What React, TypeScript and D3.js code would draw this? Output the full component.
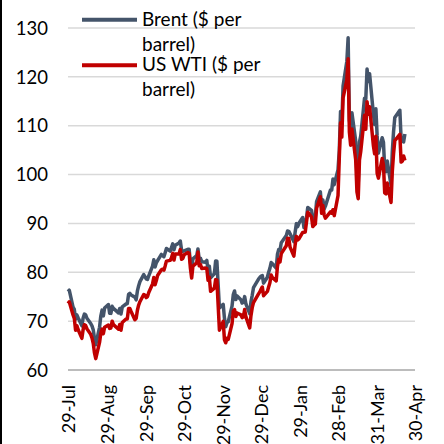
import React from "react";
import * as d3 from "d3";

const dates: string[] = [
  "2021-07-29","2021-07-30","2021-08-02","2021-08-03","2021-08-04","2021-08-05","2021-08-06","2021-08-09","2021-08-10","2021-08-11","2021-08-12","2021-08-13","2021-08-16","2021-08-17","2021-08-18","2021-08-19","2021-08-20","2021-08-23","2021-08-24","2021-08-25","2021-08-26","2021-08-27","2021-08-30","2021-08-31",
  "2021-09-01","2021-09-02","2021-09-03","2021-09-07","2021-09-08","2021-09-09","2021-09-10","2021-09-13","2021-09-14","2021-09-15","2021-09-16","2021-09-17","2021-09-20","2021-09-21","2021-09-22","2021-09-23","2021-09-24","2021-09-27","2021-09-28","2021-09-29","2021-09-30",
  "2021-10-01","2021-10-04","2021-10-05","2021-10-06","2021-10-07","2021-10-08","2021-10-11","2021-10-12","2021-10-13","2021-10-14","2021-10-15","2021-10-18","2021-10-19","2021-10-20","2021-10-21","2021-10-22","2021-10-25","2021-10-26","2021-10-27","2021-10-28","2021-10-29",
  "2021-11-01","2021-11-02","2021-11-03","2021-11-04","2021-11-05","2021-11-08","2021-11-09","2021-11-10","2021-11-11","2021-11-12","2021-11-15","2021-11-16","2021-11-17","2021-11-18","2021-11-19","2021-11-22","2021-11-23","2021-11-24","2021-11-26","2021-11-29","2021-11-30",
  "2021-12-01","2021-12-02","2021-12-03","2021-12-06","2021-12-07","2021-12-08","2021-12-09","2021-12-10","2021-12-13","2021-12-14","2021-12-15","2021-12-16","2021-12-17","2021-12-20","2021-12-21","2021-12-22","2021-12-23","2021-12-27","2021-12-28","2021-12-29","2021-12-30","2021-12-31",
  "2022-01-03","2022-01-04","2022-01-05","2022-01-06","2022-01-07","2022-01-10","2022-01-11","2022-01-12","2022-01-13","2022-01-14","2022-01-18","2022-01-19","2022-01-20","2022-01-21","2022-01-24","2022-01-25","2022-01-26","2022-01-27","2022-01-28","2022-01-31",
  "2022-02-01","2022-02-02","2022-02-03","2022-02-04","2022-02-07","2022-02-08","2022-02-09","2022-02-10","2022-02-11","2022-02-14","2022-02-15","2022-02-16","2022-02-17","2022-02-18","2022-02-22","2022-02-23","2022-02-24","2022-02-25","2022-02-28",
  "2022-03-01","2022-03-02","2022-03-03","2022-03-04","2022-03-07","2022-03-08","2022-03-09","2022-03-10","2022-03-11","2022-03-14","2022-03-15","2022-03-16","2022-03-17","2022-03-18","2022-03-21","2022-03-22","2022-03-23","2022-03-24","2022-03-25","2022-03-28","2022-03-29","2022-03-30","2022-03-31",
  "2022-04-01","2022-04-04","2022-04-05","2022-04-06","2022-04-07","2022-04-08","2022-04-11","2022-04-12","2022-04-13","2022-04-14","2022-04-18","2022-04-19","2022-04-20","2022-04-21","2022-04-22"
];

const brent: number[] = [
  76.05,76.33,72.89,72.41,70.38,71.29,70.70,69.04,70.63,71.44,71.31,70.59,69.51,69.03,68.23,66.45,65.18,68.75,71.05,72.25,71.07,72.70,73.41,71.63,
  71.59,73.03,72.61,71.69,72.60,71.45,72.92,73.51,73.60,75.46,75.67,75.34,74.92,74.36,76.19,77.25,78.09,79.53,79.09,78.64,78.52,
  79.28,81.26,82.56,81.08,81.95,82.39,83.65,83.42,83.18,84.00,84.86,84.33,85.08,85.82,84.61,85.53,85.99,86.40,84.58,84.32,84.38,
  84.71,84.72,81.99,80.54,82.74,83.43,84.78,82.64,82.87,82.17,82.05,82.43,80.28,81.24,78.89,79.70,82.31,82.25,72.72,73.44,70.57,
  68.87,69.67,69.88,73.08,75.44,76.18,74.42,75.15,74.39,73.70,73.88,75.02,73.52,71.52,73.98,75.29,76.85,78.60,78.94,79.23,79.32,77.78,
  78.98,80.00,80.80,81.99,81.75,80.87,83.72,84.67,84.47,86.06,87.51,88.44,88.38,87.89,86.27,88.20,89.96,89.34,90.03,91.21,
  89.16,89.47,91.11,93.27,92.69,90.78,91.55,91.41,94.44,96.48,93.28,94.81,92.97,93.54,96.84,96.84,99.08,97.93,100.99,
  104.97,112.93,110.46,118.11,123.21,127.98,111.14,109.33,112.67,106.90,99.91,98.02,106.64,107.93,115.62,115.48,121.60,119.03,120.65,112.48,110.23,113.45,107.91,
  104.39,107.53,106.64,101.07,100.58,102.78,97.8,104.64,108.78,111.70,113.16,107.25,106.80,106.7,108.3
];

const wti: number[] = [
  73.62,73.95,71.26,70.56,68.15,69.09,68.28,66.48,68.29,69.25,69.09,68.44,67.29,66.59,65.46,63.50,62.32,65.64,67.54,68.36,67.42,68.74,69.21,68.50,
  68.59,69.99,69.29,68.35,69.30,68.14,69.72,70.45,70.46,72.61,72.61,71.97,70.29,70.56,72.23,73.30,73.98,75.45,75.29,74.83,75.03,
  75.88,77.62,78.93,77.43,78.30,79.35,80.52,80.64,80.44,81.31,82.28,82.44,82.96,83.87,82.50,83.76,83.76,84.65,82.66,82.81,83.57,
  84.05,83.91,80.86,78.81,81.27,81.93,84.15,81.34,81.59,80.79,80.88,80.76,78.36,79.01,76.10,76.75,78.50,78.39,68.15,69.95,66.18,
  65.57,66.50,66.26,69.49,72.05,72.36,70.94,71.67,71.29,70.73,70.87,72.38,70.86,68.61,71.12,72.76,73.79,75.57,75.98,76.56,76.99,75.21,
  76.08,76.99,77.85,79.46,78.90,78.23,81.22,82.64,82.12,83.82,85.43,86.96,86.90,85.14,83.31,85.60,87.35,86.61,86.82,88.15,
  88.20,88.26,90.27,92.31,91.32,89.36,89.66,89.88,93.10,95.46,92.07,93.66,91.76,91.07,92.35,92.10,92.81,91.59,95.72,
  103.41,110.60,107.67,115.68,119.40,123.70,108.70,106.02,109.33,103.01,96.44,95.04,102.98,104.70,112.12,109.27,114.93,112.34,113.90,105.96,104.24,107.82,100.28,
  99.27,103.28,101.96,96.23,96.03,98.26,94.29,100.60,104.25,106.95,108.21,102.56,102.75,103.79,102.9
];

const tickDates: string[] = ["2021-07-29","2021-08-29","2021-09-29","2021-10-29","2021-11-29","2021-12-29","2022-01-29","2022-02-28","2022-03-31","2022-04-30"];
const tickLabels: string[] = ["29-Jul","29-Aug","29-Sep","29-Oct","29-Nov","29-Dec","29-Jan","28-Feb","31-Mar","30-Apr"];
const yTicks: number[] = [60, 70, 80, 90, 100, 110, 120, 130];
const seriesNames: string[] = ["Brent ($ per", "barrel)", "US WTI ($ per", "barrel)"];

const W = 444, H = 444;
const left = 68, right = 415, top = 28, bottom = 370;
const FONT = "Lato, 'Open Sans', sans-serif";

export default function App() {
  const parse = d3.utcParse("%Y-%m-%d");
  const x = d3.scaleUtc()
    .domain([parse(tickDates[0])!, parse(tickDates[tickDates.length - 1])!])
    .range([left, right]);
  const y = d3.scaleLinear().domain([60, 130]).range([bottom, top]);
  const pts = dates.map((d, i) => ({ d: parse(d)!, b: brent[i], w: wti[i] }));
  const lineB = d3.line<any>().x(p => x(p.d)).y(p => y(p.b));
  const lineW = d3.line<any>().x(p => x(p.d)).y(p => y(p.w));

  return (
    <div style={{ position: "fixed", left: 0, top: 0 }}>
      <svg width={W} height={H} style={{ display: "block", background: "#fff" }}>
        <rect x={0} y={0} width={2} height={H} fill="#000" />
        {yTicks.map(t => (
          <g key={t}>
            <line x1={left} x2={right} y1={y(t)} y2={y(t)}
              stroke={t === 60 ? "#A6A6A6" : "#D9D9D9"} strokeWidth={1.5} />
            <text x={48} y={y(t)} dy="0.36em" textAnchor="end" fontFamily={FONT} fontSize={18.5} fill="#000">{t}</text>
          </g>
        ))}
        {tickDates.map((t, i) => {
          const xx = x(parse(t)!);
          return (
            <text key={t} transform={`translate(${xx + 6.5},385) rotate(-90)`} textAnchor="end"
              fontFamily={FONT} fontSize={18} fill="#000">{tickLabels[i]}</text>
          );
        })}
        <path d={lineB(pts) || ""} fill="none" stroke="#44546A" strokeWidth={3.5} strokeLinejoin="round" />
        <path d={lineW(pts) || ""} fill="none" stroke="#C00000" strokeWidth={3.5} strokeLinejoin="round" />
        <line x1={82} x2={137} y1={19.7} y2={19.7} stroke="#44546A" strokeWidth={4} />
        <line x1={82} x2={137} y1={65.3} y2={65.3} stroke="#C00000" strokeWidth={4} />
        <text x={142} y={25.7} fontFamily={FONT} fontSize={19} fill="#000">{seriesNames[0]}</text>
        <text x={142} y={50.7} fontFamily={FONT} fontSize={19} fill="#000">{seriesNames[1]}</text>
        <text x={142} y={70.7} fontFamily={FONT} fontSize={19} fill="#000">{seriesNames[2]}</text>
        <text x={142} y={96} fontFamily={FONT} fontSize={19} fill="#000">{seriesNames[3]}</text>
      </svg>
    </div>
  );
}
